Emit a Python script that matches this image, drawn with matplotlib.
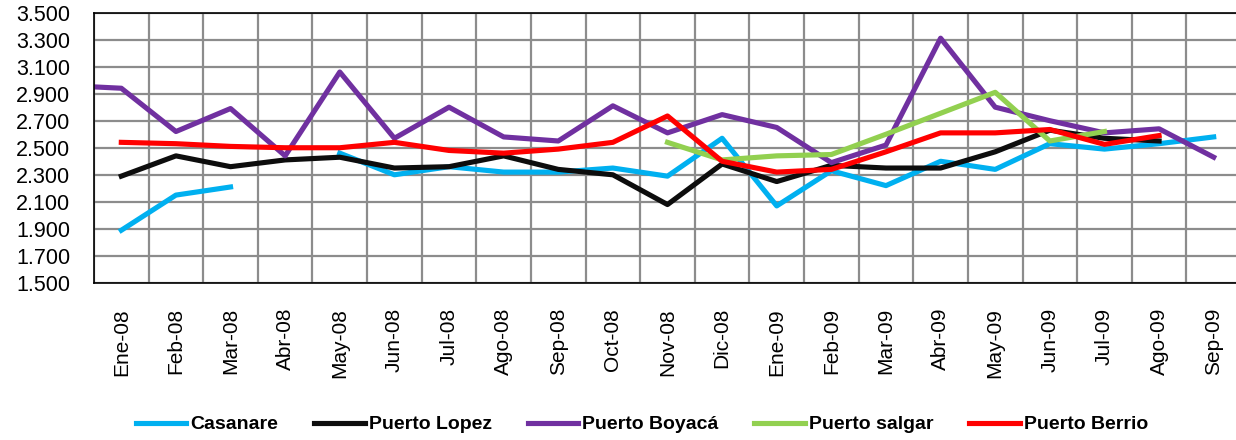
import numpy as np
import matplotlib.pyplot as plt
from matplotlib.ticker import FixedLocator, FuncFormatter

nan = np.nan

months = ["Ene-08", "Feb-08", "Mar-08", "Abr-08", "May-08", "Jun-08", "Jul-08",
          "Ago-08", "Sep-08", "Oct-08", "Nov-08", "Dic-08", "Ene-09", "Feb-09",
          "Mar-09", "Abr-09", "May-09", "Jun-09", "Jul-09", "Ago-09", "Sep-09"]

casanare = [1.89, 2.15, 2.21, nan, 2.46, 2.30, 2.36, 2.32, 2.32, 2.35, 2.29,
            2.57, 2.07, 2.33, 2.22, 2.40, 2.34, 2.53, 2.49, 2.53, 2.58]
puerto_lopez = [2.29, 2.44, 2.36, 2.41, 2.43, 2.35, 2.36, 2.44, 2.34, 2.30, 2.08,
                2.38, 2.25, 2.37, 2.35, 2.35, 2.47, 2.63, 2.57, 2.55, nan]
# first value is Dic-07 (only the tail of that segment is visible)
puerto_boyaca = [2.96, 2.94, 2.62, 2.79, 2.44, 3.06, 2.57, 2.80, 2.58, 2.55, 2.81,
                 2.61, 2.745, 2.65, 2.39, 2.52, 3.31, 2.80, 2.70, 2.61, 2.64, 2.43]
puerto_salgar = [nan, nan, nan, nan, nan, nan, nan, nan, nan, nan, 2.54,
                 2.41, 2.44, 2.45, 2.60, 2.755, 2.91, 2.55, 2.62, nan, nan]
puerto_berrio = [2.54, 2.53, 2.51, 2.50, 2.50, 2.54, 2.48, 2.46, 2.49, 2.54, 2.735,
                 2.40, 2.32, 2.34, 2.47, 2.61, 2.61, 2.635, 2.525, 2.59, nan]

yticks = np.arange(1.5, 3.51, 0.2)

plt.rcParams['font.family'] = ['Liberation Sans', 'DejaVu Sans']

fig = plt.figure(figsize=(12.36, 4.4), dpi=100)
ax = fig.add_axes([94 / 1236, 157 / 440, 1147 / 1236, 270.5 / 440])

n = np.arange(len(months))
n_boy = np.arange(-1, len(months))
lw = 3.7
ax.plot(n, casanare, color='#00B0F0', lw=lw, label='Casanare')
ax.plot(n, puerto_lopez, color='#0D0D0D', lw=lw, label='Puerto Lopez')
ax.plot(n_boy, puerto_boyaca, color='#7030A0', lw=lw, label='Puerto Boyacá')
ax.plot(n, puerto_salgar, color='#92D050', lw=lw, label='Puerto salgar')
ax.plot(n, puerto_berrio, color='#FF0000', lw=lw, label='Puerto Berrio')

ax.set_xlim(-0.5, len(months) - 0.5)
ax.set_ylim(1.5, 3.5)

ax.set_xticks(n)
ax.set_xticklabels(months, rotation=90, va='top', ha='center', fontsize=15)
ax.xaxis.set_minor_locator(FixedLocator(np.arange(-0.5, len(months), 1)))
ax.tick_params(axis='x', which='major', length=0, pad=18)
ax.tick_params(axis='x', which='minor', length=0)

ax.set_yticks(yticks)
ax.yaxis.set_major_formatter(FuncFormatter(lambda v, p: f"{v:.3f}"))
ax.tick_params(axis='y', length=0, pad=17, labelsize=15.5)

ax.grid(True, which='minor', axis='x', color='#8C8C8C', lw=1.6)
ax.grid(True, which='major', axis='y', color='#8C8C8C', lw=1.6)
ax.set_axisbelow(True)
for s in ax.spines.values():
    s.set_color('black')
    s.set_linewidth(1.2)

fig.legend(loc='center', bbox_to_anchor=(642 / 1236, 1 - 424.5 / 440), ncol=5,
           frameon=False, prop={'weight': 'bold', 'size': 14},
           handlelength=2.6, handletextpad=0.2, columnspacing=1.85)

plt.savefig('out.png', dpi=100)
